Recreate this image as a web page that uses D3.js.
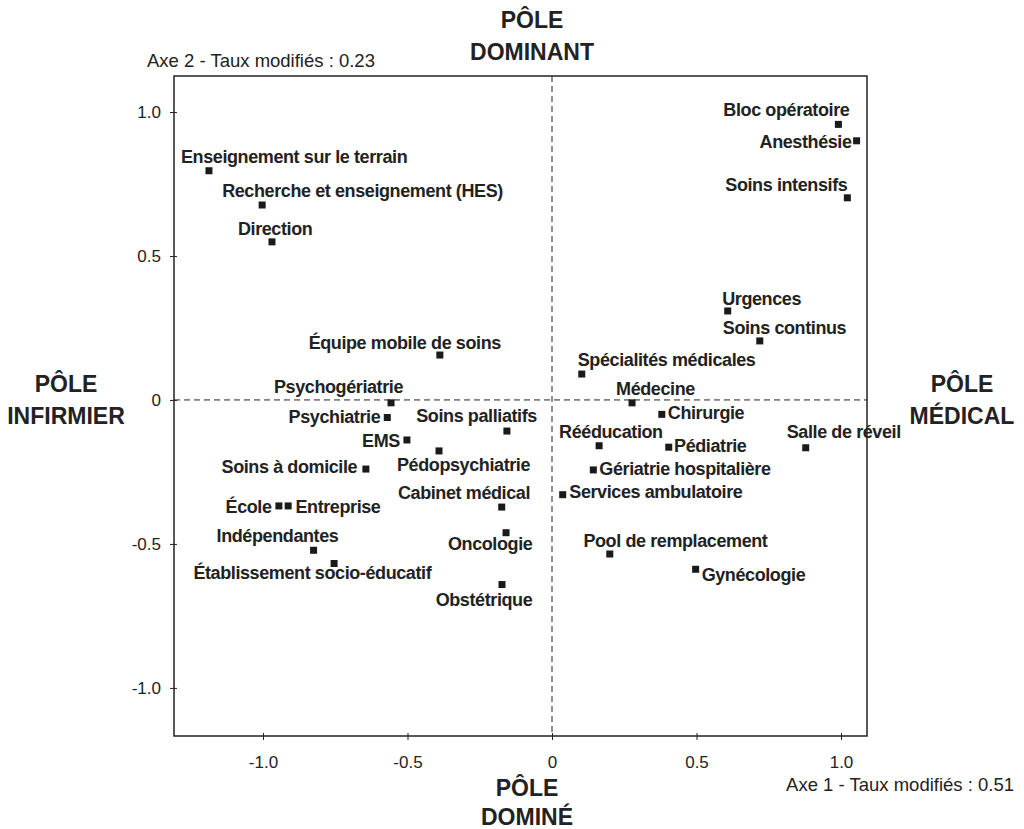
<!DOCTYPE html>
<html>
<head>
<meta charset="utf-8">
<script src="https://cdn.jsdelivr.net/npm/d3@7"></script>
<style>
  html, body { margin: 0; padding: 0; background: #fff; }
  svg { display: block; }
  text { font-family: "Liberation Sans", Arial, Helvetica, sans-serif; fill: #222; }
</style>
</head>
<body>
<svg id="chart" width="1024" height="829"></svg>
<script>
// ---- Data ----
const categories = [
  "Enseignement sur le terrain", "Recherche et enseignement (HES)", "Direction",
  "Bloc opératoire", "Anesthésie", "Soins intensifs", "Urgences", "Soins continus",
  "Équipe mobile de soins", "Spécialités médicales", "Psychogériatrie", "Médecine",
  "Psychiatrie", "Chirurgie", "Soins palliatifs", "EMS", "Rééducation", "Pédiatrie",
  "Salle de réveil", "Pédopsychiatrie", "Soins à domicile", "Gériatrie hospitalière",
  "Services ambulatoire", "École", "Entreprise", "Cabinet médical", "Oncologie",
  "Indépendantes", "Pool de remplacement", "Établissement socio-éducatif",
  "Gynécologie", "Obstétrique"
];
const axis1Values = [
  -1.187, -1.003, -0.969,
  0.991, 1.054, 1.022, 0.608, 0.719,
  -0.388, 0.103, -0.557, 0.277,
  -0.570, 0.380, -0.156, -0.502, 0.163, 0.404,
  0.878, -0.391, -0.644, 0.143,
  0.037, -0.945, -0.913, -0.174, -0.159,
  -0.825, 0.200, -0.754,
  0.497, -0.173
];
const axis2Values = [
  0.796, 0.677, 0.549,
  0.957, 0.900, 0.702, 0.309, 0.205,
  0.156, 0.090, -0.010, -0.010,
  -0.061, -0.050, -0.108, -0.139, -0.159, -0.164,
  -0.166, -0.177, -0.240, -0.243,
  -0.329, -0.368, -0.368, -0.372, -0.461,
  -0.522, -0.535, -0.568,
  -0.588, -0.641
];
const xTickValues = [-1.0, -0.5, 0, 0.5, 1.0];
const xTickLabels = ["-1.0", "-0.5", "0", "0.5", "1.0"];
const yTickValues = [-1.0, -0.5, 0, 0.5, 1.0];
const yTickLabels = ["-1.0", "-0.5", "0", "0.5", "1.0"];
const axis1Title = "Axe 1 - Taux modifiés : 0.51";
const axis2Title = "Axe 2 - Taux modifiés : 0.23";
const poleTop = ["PÔLE", "DOMINANT"];
const poleBottom = ["PÔLE", "DOMINÉ"];
const poleLeft = ["PÔLE", "INFIRMIER"];
const poleRight = ["PÔLE", "MÉDICAL"];

// ---- Layout (label placement: anchor, dx, dy relative to the marker) ----
const labelLayout = [
  ["start", -28, -7.5], ["start", -40, -7.7], ["start", -34, -6.5],
  ["end", 11, -8], ["end", -5, 7.5], ["end", 0, -7], ["start", -5.5, -6], ["start", -37, -6.7],
  ["end", 61, -6], ["start", -4, -8], ["end", 12, -10], ["start", -16, -8],
  ["end", -7, 5.6], ["start", 6, 5], ["end", 30, -9.3], ["end", -7, 6.7], ["start", -40, -7.4], ["start", 5.3, 4.4],
  ["start", -19, -9.4], ["start", -42, 19.7], ["end", -8.7, 3.7], ["start", 6, 5],
  ["start", 6.6, 3.6], ["end", -7.3, 7.3], ["start", 7.3, 7.3], ["end", 28.3, -8], ["end", 26.3, 17.3],
  ["start", -97, -8.6], ["start", -26.4, -6.7], ["start", -140.7, 15.3],
  ["start", 6, 11.4], ["end", 30.3, 21.3]
];

const svg = d3.select("#chart");
const plot = { left: 174, right: 867, top: 76, bottom: 736 };

const x = d3.scaleLinear().domain([-1.308, 1.09]).range([plot.left, plot.right]);
const y = d3.scaleLinear().domain([-1.167, 1.125]).range([plot.bottom, plot.top]);

// Zero reference lines (dashed)
svg.append("line")
  .attr("x1", x(0)).attr("x2", x(0)).attr("y1", plot.top).attr("y2", plot.bottom)
  .attr("stroke", "#222").attr("stroke-width", 1).attr("stroke-dasharray", "6,4");
svg.append("line")
  .attr("x1", plot.left).attr("x2", plot.right).attr("y1", y(0)).attr("y2", y(0))
  .attr("stroke", "#222").attr("stroke-width", 1).attr("stroke-dasharray", "6,4");

// Frame
svg.append("rect")
  .attr("x", plot.left).attr("y", plot.top)
  .attr("width", plot.right - plot.left).attr("height", plot.bottom - plot.top)
  .attr("fill", "none").attr("stroke", "#222").attr("stroke-width", 1.5);

// Axes
const xAxis = d3.axisBottom(x).tickValues(xTickValues)
  .tickFormat((d, i) => xTickLabels[i]).tickSizeInner(4).tickSizeOuter(0).tickPadding(16);
const gx = svg.append("g").attr("transform", `translate(0,${plot.bottom})`).call(xAxis);
gx.select(".domain").remove();
gx.selectAll(".tick line").attr("y1", -3).attr("stroke", "#222");
gx.selectAll(".tick text").attr("font-size", 17).style("font-family", "Liberation Sans, Arial, sans-serif").attr("fill", "#222");

const yAxis = d3.axisLeft(y).tickValues(yTickValues)
  .tickFormat((d, i) => yTickLabels[i]).tickSizeInner(4).tickSizeOuter(0).tickPadding(9);
const gy = svg.append("g").attr("transform", `translate(${plot.left},0)`).call(yAxis);
gy.select(".domain").remove();
gy.selectAll(".tick line").attr("x1", 3).attr("stroke", "#222");
gy.selectAll(".tick text").attr("font-size", 17).style("font-family", "Liberation Sans, Arial, sans-serif").attr("fill", "#222");

// Axis titles
svg.append("text").attr("x", 147).attr("y", 67).attr("font-size", 18.5).text(axis2Title);
svg.append("text").attr("x", 1014).attr("y", 791).attr("font-size", 18.5)
  .attr("text-anchor", "end").text(axis1Title);

// Pole labels
function pole(lines, cx, y0, gap) {
  const t = svg.append("text").attr("text-anchor", "middle")
    .attr("font-size", 23).attr("font-weight", "bold");
  lines.forEach((l, i) => t.append("tspan").attr("x", cx).attr("y", y0 + i * gap).text(l));
}
pole(poleTop, 532, 28, 31.5);
pole(poleBottom, 527, 796, 29);
pole(poleLeft, 66, 392, 31.5);
pole(poleRight, 962, 392, 31.5);

// Points
const pts = categories.map((c, i) => ({ name: c, v1: axis1Values[i], v2: axis2Values[i], lay: labelLayout[i] }));

svg.append("g").selectAll("rect").data(pts).join("rect")
  .attr("x", d => x(d.v1) - 3.5).attr("y", d => y(d.v2) - 3.5)
  .attr("width", 7).attr("height", 7).attr("fill", "#1a1a1a");

svg.append("g").selectAll("text").data(pts).join("text")
  .attr("x", d => x(d.v1) + d.lay[1])
  .attr("y", d => y(d.v2) + d.lay[2])
  .attr("text-anchor", d => d.lay[0])
  .attr("font-size", 18).attr("font-weight", "bold")
  .attr("letter-spacing", "-0.4px")
  .text(d => d.name);
</script>
</body>
</html>
